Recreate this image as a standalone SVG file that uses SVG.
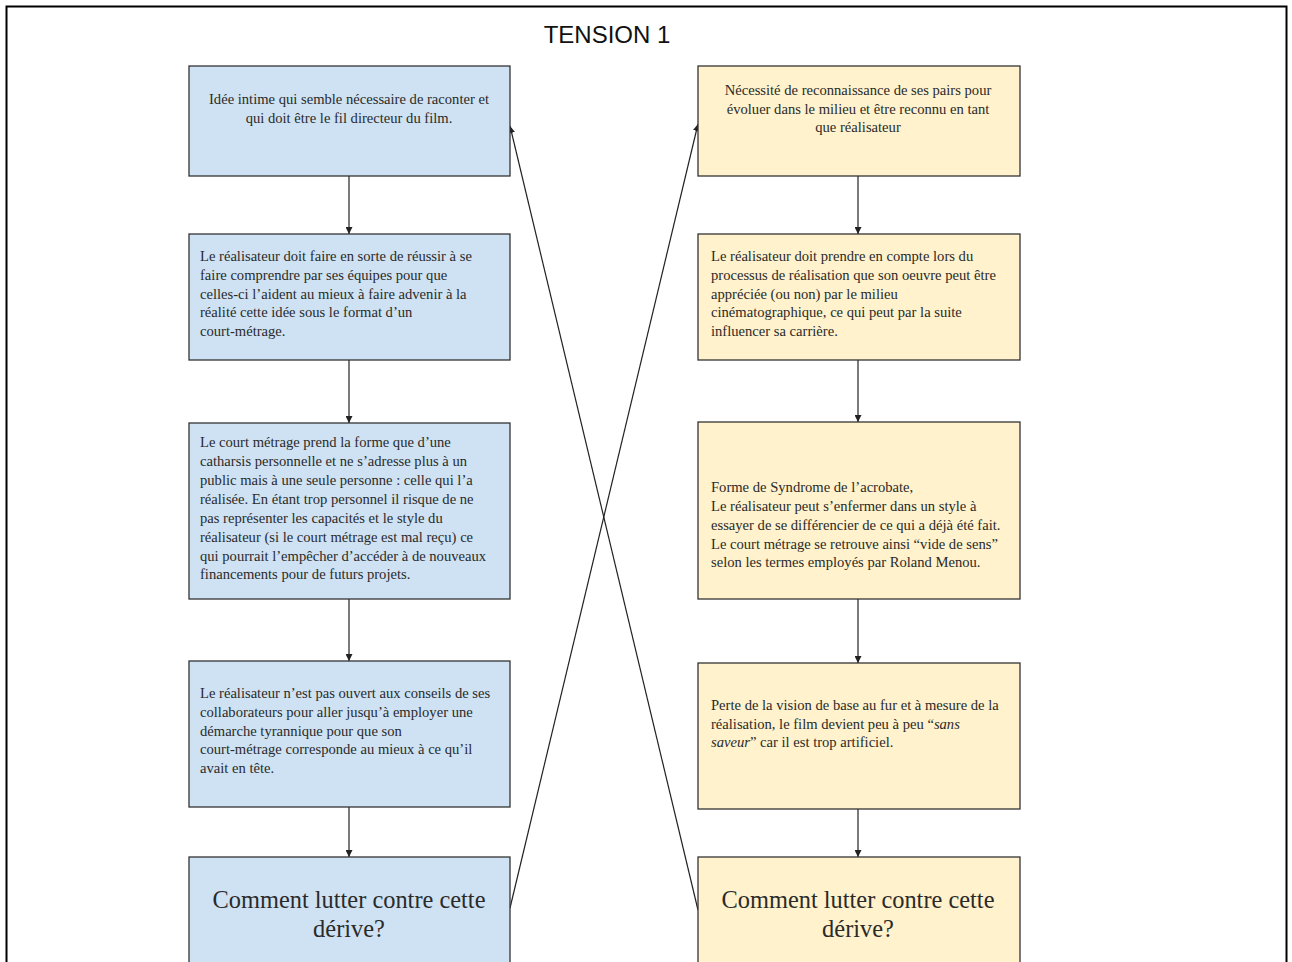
<svg xmlns="http://www.w3.org/2000/svg" width="1292" height="962" viewBox="0 0 1292 962">
<style>
.blue{fill:#cfe2f3;stroke:#333;stroke-width:1.3}
.yel{fill:#fff2cc;stroke:#333;stroke-width:1.3}
.t{font-family:"Liberation Serif","DejaVu Serif",serif;font-size:14.6px;fill:#2a2a2a}
.c{text-anchor:middle}
.big{font-family:"Liberation Serif","DejaVu Serif",serif;font-size:24.4px;fill:#2a2a2a;text-anchor:middle}
.conn{stroke:#222;stroke-width:1.2;fill:none}
</style>
<defs>
<marker id="ah" viewBox="0 0 10 10" refX="10" refY="5" markerWidth="7" markerHeight="7" markerUnits="userSpaceOnUse" orient="auto">
<path d="M0,0 L10,5 L0,10 z" fill="#222"/>
</marker>
</defs>
<rect width="1292" height="962" fill="#fff"/>
<rect x="6.5" y="6.5" width="1280" height="970" fill="none" stroke="#000" stroke-width="2"/>
<text x="607" y="43" font-family="Liberation Sans, Arial, sans-serif" font-size="24" fill="#111" text-anchor="middle">TENSION 1</text>

<g id="connectors">
<line class="conn" x1="349" y1="176" x2="349" y2="234" marker-end="url(#ah)"/>
<line class="conn" x1="349" y1="360" x2="349" y2="423" marker-end="url(#ah)"/>
<line class="conn" x1="349" y1="599" x2="349" y2="661" marker-end="url(#ah)"/>
<line class="conn" x1="349" y1="807" x2="349" y2="857" marker-end="url(#ah)"/>
<line class="conn" x1="858" y1="176" x2="858" y2="234" marker-end="url(#ah)"/>
<line class="conn" x1="858" y1="360" x2="858" y2="422" marker-end="url(#ah)"/>
<line class="conn" x1="858" y1="599" x2="858" y2="663" marker-end="url(#ah)"/>
<line class="conn" x1="858" y1="809" x2="858" y2="857" marker-end="url(#ah)"/>
<line class="conn" x1="510" y1="908" x2="698" y2="124" marker-end="url(#ah)"/>
<line class="conn" x1="698" y1="910" x2="510" y2="126" marker-end="url(#ah)"/>
</g>

<g id="node-l1">
<rect class="blue" x="189" y="66" width="321" height="110"/>
<text class="t c"><tspan x="349" y="104">Idée intime qui semble nécessaire de raconter et</tspan><tspan x="349" y="123">qui doit être le fil directeur du film.</tspan></text>
</g>
<g id="node-l2">
<rect class="blue" x="189" y="234" width="321" height="126"/>
<text class="t"><tspan x="200" y="261">Le réalisateur doit faire en sorte de réussir à se</tspan><tspan x="200" y="280">faire comprendre par ses équipes pour que</tspan><tspan x="200" y="299">celles-ci l’aident au mieux à faire advenir à la</tspan><tspan x="200" y="317">réalité cette idée sous le format d’un</tspan><tspan x="200" y="336">court-métrage.</tspan></text>
</g>
<g id="node-l3">
<rect class="blue" x="189" y="423" width="321" height="176"/>
<text class="t"><tspan x="200" y="447">Le court métrage prend la forme que d’une</tspan><tspan x="200" y="466">catharsis personnelle et ne s’adresse plus à un</tspan><tspan x="200" y="485">public mais à une seule personne : celle qui l’a</tspan><tspan x="200" y="504">réalisée. En étant trop personnel il risque de ne</tspan><tspan x="200" y="523">pas représenter les capacités et le style du</tspan><tspan x="200" y="542">réalisateur (si le court métrage est mal reçu) ce</tspan><tspan x="200" y="561">qui pourrait l’empêcher d’accéder à de nouveaux</tspan><tspan x="200" y="579">financements pour de futurs projets.</tspan></text>
</g>
<g id="node-l4">
<rect class="blue" x="189" y="661" width="321" height="146"/>
<text class="t"><tspan x="200" y="698">Le réalisateur n’est pas ouvert aux conseils de ses</tspan><tspan x="200" y="717">collaborateurs pour aller jusqu’à employer une</tspan><tspan x="200" y="736">démarche tyrannique pour que son</tspan><tspan x="200" y="754">court-métrage corresponde au mieux à ce qu’il</tspan><tspan x="200" y="773">avait en tête.</tspan></text>
</g>
<g id="node-l5">
<rect class="blue" x="189" y="857" width="321" height="120"/>
<text class="big"><tspan x="349" y="908">Comment lutter contre cette</tspan><tspan x="349" y="937">dérive?</tspan></text>
</g>

<g id="node-r1">
<rect class="yel" x="698" y="66" width="322" height="110"/>
<text class="t c"><tspan x="858" y="95">Nécessité de reconnaissance de ses pairs pour</tspan><tspan x="858" y="114">évoluer dans le milieu et être reconnu en tant</tspan><tspan x="858" y="132">que réalisateur</tspan></text>
</g>
<g id="node-r2">
<rect class="yel" x="698" y="234" width="322" height="126"/>
<text class="t"><tspan x="711" y="261">Le réalisateur doit prendre en compte lors du</tspan><tspan x="711" y="280">processus de réalisation que son oeuvre peut être</tspan><tspan x="711" y="299">appréciée (ou non) par le milieu</tspan><tspan x="711" y="317">cinématographique, ce qui peut par la suite</tspan><tspan x="711" y="336">influencer sa carrière.</tspan></text>
</g>
<g id="node-r3">
<rect class="yel" x="698" y="422" width="322" height="177"/>
<text class="t"><tspan x="711" y="492">Forme de Syndrome de l’acrobate,</tspan><tspan x="711" y="511">Le réalisateur peut s’enfermer dans un style à</tspan><tspan x="711" y="530">essayer de se différencier de ce qui a déjà été fait.</tspan><tspan x="711" y="549">Le court métrage se retrouve ainsi “vide de sens”</tspan><tspan x="711" y="567">selon les termes employés par Roland Menou.</tspan></text>
</g>
<g id="node-r4">
<rect class="yel" x="698" y="663" width="322" height="146"/>
<text class="t"><tspan x="711" y="710">Perte de la vision de base au fur et à mesure de la</tspan><tspan x="711" y="729">réalisation, le film devient peu à peu “<tspan font-style="italic">sans</tspan></tspan><tspan x="711" y="747"><tspan font-style="italic">saveur</tspan>” car il est trop artificiel.</tspan></text>
</g>
<g id="node-r5">
<rect class="yel" x="698" y="857" width="322" height="120"/>
<text class="big"><tspan x="858" y="908">Comment lutter contre cette</tspan><tspan x="858" y="937">dérive?</tspan></text>
</g>
</svg>
